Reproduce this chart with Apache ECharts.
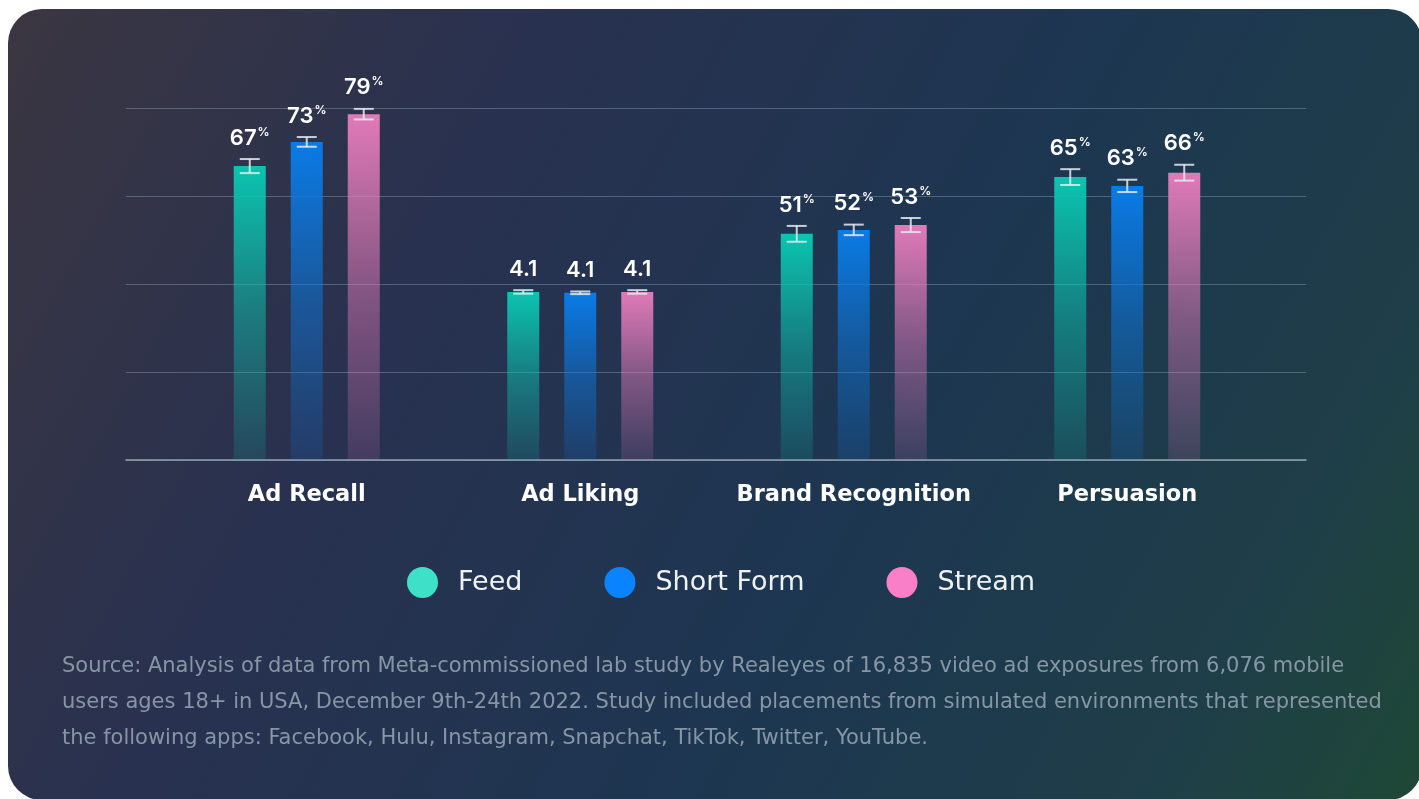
<!DOCTYPE html>
<html>
<head>
<meta charset="utf-8">
<title>Ad outcomes by placement</title>
<script src="https://cdn.jsdelivr.net/npm/echarts@6/dist/echarts.min.js"></script>
<style>
  html, body { margin: 0; padding: 0; background: #fff; }
  #chart { width: 1419px; height: 799px; }
</style>
</head>
<body>
<div id="chart"></div>
<script>
// data
const categories = ['Ad Recall', 'Ad Liking', 'Brand Recognition', 'Persuasion'];
const seriesNames = ['Feed', 'Short Form', 'Stream'];
// bar heights on the shared 0-80 plotting scale
const feedValues = [66.8, 38.2, 51.4, 64.3];
const shortValues = [72.3, 38.0, 52.3, 62.3];
const streamValues = [78.6, 38.2, 53.4, 65.3];
// half length of the error bars
const feedErrors = [1.6, 0.4, 1.8, 1.8];
const shortErrors = [1.1, 0.3, 1.2, 1.4];
const streamErrors = [1.2, 0.4, 1.6, 1.8];
// printed labels
const feedLabels = ['67', '4.1', '51', '65'];
const shortLabels = ['73', '4.1', '52', '63'];
const streamLabels = ['79', '4.1', '53', '66'];
const labelUnits = ['%', '', '%', '%'];
const yTicks = [0, 20, 40, 60, 80];

const footnote = [
  'Source: Analysis of data from Meta-commissioned lab study by Realeyes of 16,835 video ad exposures from 6,076 mobile',
  'users ages 18+ in USA, December 9th-24th 2022. Study included placements from simulated environments that represented',
  'the following apps: Facebook, Hulu, Instagram, Snapchat, TikTok, Twitter, YouTube.'
].join('\n');

const barColors = [[11, 196, 176], [10, 123, 230], [224, 122, 184]];
const legendColors = ['#3ee0c8', '#0a84fe', '#f97fc8'];
const BAR_W = 32;
const BAR_GAP = 25;
const FONT = 'Inter, "Noto Sans", sans-serif';
const WIDE = '"DejaVu Sans", "Noto Sans", sans-serif';

let chart = echarts.init(document.getElementById('chart'));

function rgba(c, a) {
  return 'rgba(' + c[0] + ',' + c[1] + ',' + c[2] + ',' + a + ')';
}

function barSeries(k, values) {
  const c = barColors[k];
  return {
    type: 'bar',
    name: seriesNames[k],
    xAxisIndex: 1,
    yAxisIndex: 1,
    data: values,
    barWidth: BAR_W,
    barGap: (BAR_GAP / BAR_W * 100) + '%',
    itemStyle: {
      color: new echarts.graphic.LinearGradient(0, 0, 0, 1, [
        { offset: 0, color: rgba(c, 1) },
        { offset: 0.5, color: rgba(c, 0.5) },
        { offset: 1, color: rgba(c, 0.15) }
      ])
    }
  };
}

function errorSeries(k, values, errors, labels) {
  return {
    type: 'custom',
    name: seriesNames[k] + ' range',
    xAxisIndex: 1,
    yAxisIndex: 1,
    z: 5,
    data: values.map((v, i) => [i, v - errors[i], v + errors[i]]),
    renderItem: function (params, api) {
      const i = params.dataIndex;
      const lo = api.coord([api.value(0), api.value(1)]);
      const hi = api.coord([api.value(0), api.value(2)]);
      const x = lo[0] + (k - 1) * (BAR_W + BAR_GAP);
      const ls = { stroke: 'rgba(228,234,240,0.85)', lineWidth: 2 };
      const unit = labelUnits[i];
      const txt = '{n|' + labels[i] + '}' + (unit ? '{p|' + unit + '}' : '');
      return {
        type: 'group',
        children: [
          { type: 'line', shape: { x1: x, y1: hi[1], x2: x, y2: lo[1] }, style: ls },
          { type: 'line', shape: { x1: x - 10, y1: hi[1], x2: x + 10, y2: hi[1] }, style: ls },
          { type: 'line', shape: { x1: x - 10, y1: lo[1], x2: x + 10, y2: lo[1] }, style: ls },
          {
            type: 'text',
            x: x,
            y: hi[1] - 9,
            style: {
              text: txt,
              align: 'center',
              verticalAlign: 'bottom',
              textAlign: 'center',
              textVerticalAlign: 'bottom',
              rich: {
                n: { fill: '#fff', color: '#fff', fontFamily: FONT, fontWeight: 600, fontSize: 22, lineHeight: 24 },
                p: { fill: '#fff', color: '#fff', fontFamily: FONT, fontWeight: 600, fontSize: 12, lineHeight: 24, verticalAlign: 'top', padding: [0, 0, 8, 1] }
              }
            }
          }
        ]
      };
    }
  };
}

chart.setOption({
  backgroundColor: '#ffffff',
  animation: false,
  graphic: {
    elements: [{
      type: 'rect',
      z: -10,
      silent: true,
      shape: { x: 8, y: 9, width: 1414, height: 791, r: 34 },
      style: {
        fill: new echarts.graphic.LinearGradient(0, 0, 1, 1, [
          { offset: 0, color: '#3b3641' },
          { offset: 0.3, color: '#283150' },
          { offset: 0.6, color: '#1d3651' },
          { offset: 0.85, color: '#1e3e48' },
          { offset: 1, color: '#1f4836' }
        ])
      }
    }]
  },
  title: {
    text: footnote,
    left: 57,
    top: 644,
    textStyle: { color: '#8696a5', fontFamily: WIDE, fontSize: 21, fontWeight: 400, lineHeight: 36 }
  },
  legend: {
    data: seriesNames.map((n, k) => ({ name: n, itemStyle: { color: legendColors[k] } })),
    icon: 'circle',
    left: 402,
    top: 562,
    itemWidth: 31,
    itemHeight: 31,
    itemGap: 82,
    textStyle: { color: '#eef2f5', fontFamily: WIDE, fontSize: 27, fontWeight: 400, padding: [0, 0, 0, 15] }
  },
  grid: [
    { left: 126, right: 113, top: 108, bottom: 339 },
    { left: 170, right: 155, top: 108, bottom: 339 }
  ],
  xAxis: [
    {
      gridIndex: 0, type: 'value', min: 0, max: 1,
      axisLine: { show: true, lineStyle: { color: '#93a2b0', width: 1.5 } },
      axisTick: { show: false }, axisLabel: { show: false }, splitLine: { show: false }
    },
    {
      gridIndex: 1, type: 'category', data: categories,
      axisLine: { show: false }, axisTick: { show: false },
      axisLabel: { interval: 0, color: '#ffffff', fontFamily: WIDE, fontSize: 22.5, fontWeight: 'bold', margin: 24 }
    }
  ],
  yAxis: [
    {
      gridIndex: 0, type: 'value', min: yTicks[0], max: yTicks[yTicks.length - 1], interval: yTicks[1] - yTicks[0],
      axisLine: { show: false }, axisTick: { show: false }, axisLabel: { show: false },
      splitLine: { lineStyle: { color: 'rgba(135,160,170,0.45)', width: 1 } }
    },
    {
      gridIndex: 1, type: 'value', min: yTicks[0], max: yTicks[yTicks.length - 1], show: false
    }
  ],
  series: [
    barSeries(0, feedValues),
    barSeries(1, shortValues),
    barSeries(2, streamValues),
    errorSeries(0, feedValues, feedErrors, feedLabels),
    errorSeries(1, shortValues, shortErrors, shortLabels),
    errorSeries(2, streamValues, streamErrors, streamLabels)
  ]
});
</script>
</body>
</html>
